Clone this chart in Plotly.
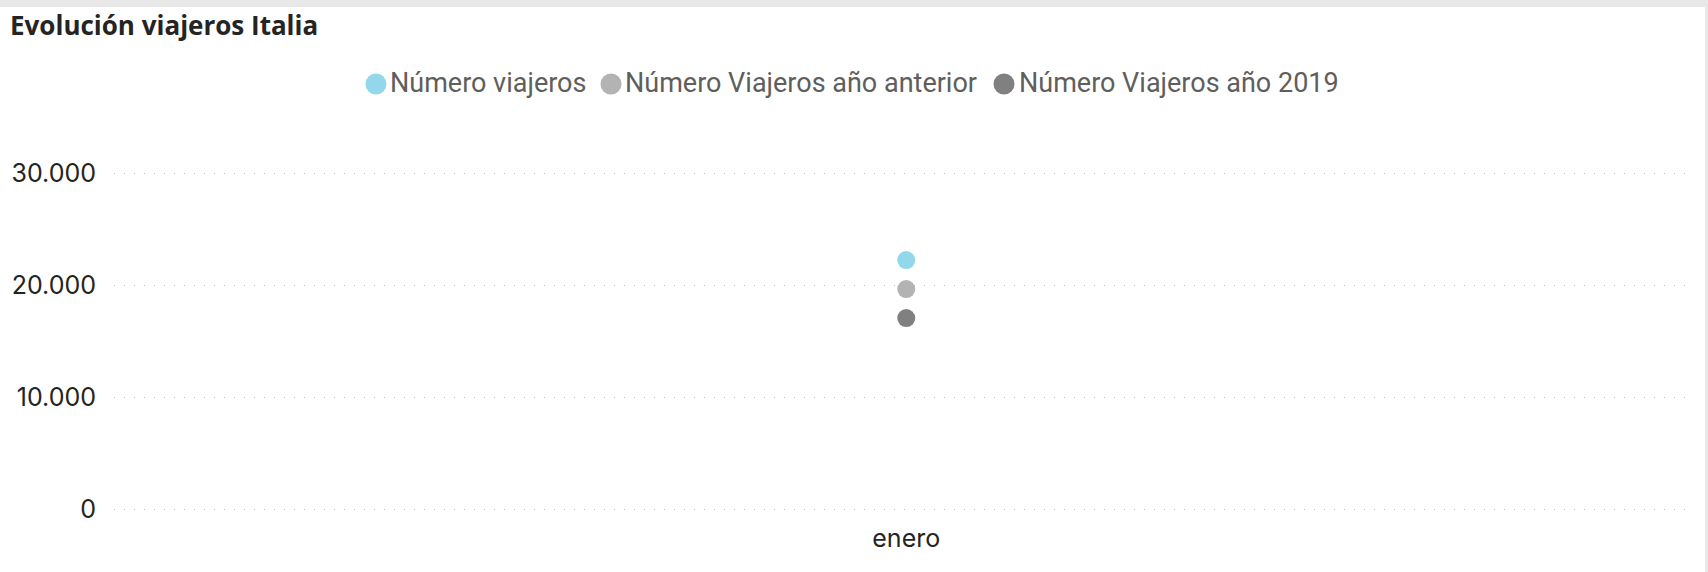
import plotly.graph_objects as go

# ---- data ----
categories = ["enero"]
series_names = ["Número viajeros", "Número Viajeros año anterior", "Número Viajeros año 2019"]
viajeros = [22230]
viajeros_anterior = [19640]
viajeros_2019 = [17050]
y_ticks = [0, 10000, 20000, 30000]
title_text = "Evolución viajeros Italia"

colors = ["#93D8EA", "#B3B3B3", "#808080"]

W, H = 1708, 572
# plot box in pixels: y=0 at 509, y=30000 at 173; x from 114 to 1689
PAD = 4
ML, MR = 114, W - 1689
MT, MB = 173 - PAD, (H - 509) - PAD
PW, PH = W - ML - MR, H - MT - MB
units_per_px = 30000 / (509 - 173)
y_range = [-PAD * units_per_px, 30000 + PAD * units_per_px]


def px_x(p):
    return (p - ML) / PW


def px_y(p):
    return (H - MB - p) / PH


fig = go.Figure()
for name, vals, col in zip(series_names, [viajeros, viajeros_anterior, viajeros_2019], colors):
    fig.add_trace(go.Scatter(
        x=categories, y=vals, name=name, mode="markers",
        marker=dict(size=18, color=col, line=dict(width=0)),
        showlegend=False,
    ))

# legend drawn as circle + text (positions in pixels)
legend_circle_cx = [376, 611, 1004]
legend_text_x = [388, 623, 1017]
legend_cy = 84
R = 10.5
shapes = []
annotations = []
for name, col, cx, tx in zip(series_names, colors, legend_circle_cx, legend_text_x):
    shapes.append(dict(type="circle", xref="paper", yref="paper",
                       x0=px_x(cx - R), x1=px_x(cx + R), y0=px_y(legend_cy + R), y1=px_y(legend_cy - R),
                       fillcolor=col, line=dict(width=0)))
    annotations.append(dict(text=name, xref="paper", yref="paper", x=px_x(tx), y=px_y(legend_cy - 1),
                            xanchor="left", yanchor="middle", showarrow=False,
                            font=dict(family="Roboto", size=27, color="#605E5C")))

# frame bands
shapes += [
    dict(type="rect", xref="paper", yref="paper", layer="above",
         x0=px_x(0), x1=px_x(W), y0=px_y(7), y1=px_y(0),
         fillcolor="#E8E8E8", line=dict(width=0)),
    dict(type="rect", xref="paper", yref="paper", layer="above",
         x0=px_x(1705), x1=px_x(W), y0=px_y(H), y1=px_y(0),
         fillcolor="#E8E8E8", line=dict(width=0)),
]

fig.update_layout(
    width=W, height=H,
    margin=dict(l=ML, r=MR, t=MT, b=MB, pad=0),
    paper_bgcolor="white", plot_bgcolor="white",
    separators=",.",
    showlegend=False,
    title=dict(text=title_text, x=10 / W, xref="container", xanchor="left",
               y=1 - 26 / H, yref="container", yanchor="middle",
               font=dict(family="Open Sans", size=26, color="#252423", weight="bold")),
    xaxis=dict(
        type="category", range=[-0.5, 0.494], showgrid=False, zeroline=False,
        showline=False, ticks="", ticklabelstandoff=4 + PAD,
        tickfont=dict(family="Inter", size=25, color="#252423"),
    ),
    yaxis=dict(
        range=y_range, tickvals=y_ticks, tickformat=",d",
        showgrid=True, gridcolor="#BDBDBD", gridwidth=1, griddash="1px,9px",
        zeroline=False, showline=False, ticks="", ticklabelstandoff=17,
        tickfont=dict(family="Inter", size=25, color="#252423"),
    ),
    shapes=shapes,
    annotations=annotations,
)

fig.write_html("out.html", config={"displayModeBar": False},
               post_script="document.body.style.margin='0px';")
